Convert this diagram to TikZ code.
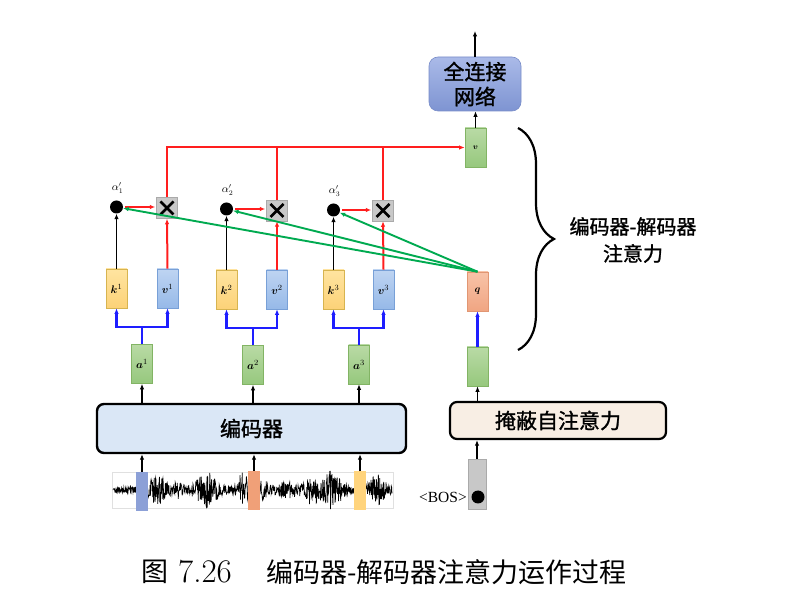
\documentclass[tikz,border=0pt]{standalone}
\usepackage{amsmath,bm}
\usepackage{fontspec}
\newfontfamily\cjk{Noto Sans CJK SC}
\newfontfamily\cjkm{Noto Sans CJK SC}[FakeBold=1.3]
\newfontfamily\bosfont{Liberation Serif}
\usetikzlibrary{arrows.meta,decorations.pathreplacing,calc}
\definecolor{kdraw}{RGB}{215,180,80}
\definecolor{ktop}{RGB}{255,228,160}
\definecolor{kbot}{RGB}{252,210,120}
\definecolor{vdraw}{RGB}{120,160,215}
\definecolor{vtop}{RGB}{190,212,242}
\definecolor{vbot}{RGB}{150,185,232}
\definecolor{gdraw}{RGB}{130,180,100}
\definecolor{gtop}{RGB}{185,218,165}
\definecolor{gbot}{RGB}{150,200,125}
\definecolor{qdraw}{RGB}{225,150,115}
\definecolor{qtop}{RGB}{248,195,168}
\definecolor{qbot}{RGB}{240,165,130}
\definecolor{xfill}{RGB}{200,200,200}
\definecolor{xdraw}{RGB}{170,170,170}
\definecolor{encfill}{RGB}{218,231,246}
\definecolor{maskfill}{RGB}{248,238,228}
\definecolor{fctop}{RGB}{170,186,232}
\definecolor{fcbot}{RGB}{126,148,210}
\definecolor{fcdraw}{RGB}{120,140,200}
\definecolor{myred}{RGB}{255,30,30}
\definecolor{myblue}{RGB}{30,30,255}
\definecolor{mygreen}{RGB}{0,170,80}
\definecolor{barblue}{RGB}{140,160,215}
\definecolor{barorange}{RGB}{240,160,120}
\definecolor{baryellow}{RGB}{255,212,125}
\begin{document}
\begin{tikzpicture}[x=1pt,y=-1pt,
  declare function={env(\t)=3+12*exp(-((\t-158)/10)^2)+6*exp(-((\t-178)/6)^2)+15*exp(-((\t-207)/12)^2)+15*exp(-((\t-243)/6)^2)+10*exp(-((\t-263)/5)^2)+6*exp(-((\t-287)/12)^2)+12*exp(-((\t-312)/8)^2)+17*exp(-((\t-332)/10)^2)+13*exp(-((\t-377)/9)^2);},
  >={Latex[length=5.5pt,width=4.5pt]},
  vecbox/.style={minimum width=21pt,minimum height=39pt,inner sep=0pt,line width=0.6pt,font=\fontsize{11}{11}\selectfont},
  kbox/.style={vecbox,draw=kdraw,top color=ktop,bottom color=kbot},
  vbox/.style={vecbox,draw=vdraw,top color=vtop,bottom color=vbot},
  gbox/.style={vecbox,draw=gdraw,top color=gtop,bottom color=gbot},
  qbox/.style={vecbox,draw=qdraw,top color=qtop,bottom color=qbot},
  xbox/.style={draw=xdraw,fill=xfill,minimum size=21pt,inner sep=0pt,line width=0.5pt,
    path picture={\draw[line width=2.5pt,black] ($(path picture bounding box.center)+(-6.5,-6.5)$) -- ($(path picture bounding box.center)+(6.5,6.5)$) ($(path picture bounding box.center)+(-6.5,6.5)$) -- ($(path picture bounding box.center)+(6.5,-6.5)$);}},
  dotnode/.style={circle,fill=black,minimum size=13pt,inner sep=0pt},
  bigbox/.style={draw=black,line width=2.4pt,rounded corners=7pt,inner sep=0pt},
  blk/.style={->,line width=1.7pt,black},
  redline/.style={line width=2pt,myred},
  blueline/.style={line width=2.3pt,myblue},
  greenline/.style={line width=1.9pt,mygreen,->},
  bar/.style={minimum width=12pt,minimum height=39pt,inner sep=0pt},
  alab/.style={font=\fontsize{10.5}{10.5}\selectfont,inner sep=0pt},
  cjkfont/.style={font=\fontsize{#1}{#1}\selectfont\cjkm}
]
\useasboundingbox (0,0) rectangle (793,601);

% ---------- waveform ----------
\draw[black!12,line width=0.6pt] (112,472) rectangle (393,508);
\pgfmathsetseed{11}
\draw[line width=0.7pt,black] plot[domain=113:392,samples=800,variable=\t] (\t,{490+env(\t)*rand});
\node[bar,fill=barblue] (b1) at (142,491.5) {};
\node[bar,fill=barorange] (b2) at (254,490.5) {};
\node[bar,fill=baryellow] (b3) at (360,491) {};

% ---------- encoder ----------
\node[bigbox,fill=encfill,minimum width=309pt,minimum height=49pt,cjkfont=21] (enc) at (251.5,428.5) {编码器};

% ---------- a, k, v ----------
\node[gbox] (a1) at (142,364) {$\bm{a}^1$};
\node[gbox] (a2) at (253,365) {$\bm{a}^2$};
\node[gbox] (a3) at (359,364.5) {$\bm{a}^3$};
\node[kbox] (k1) at (116.5,288.5) {$\bm{k}^1$};
\node[vbox] (v1) at (167.5,288.5) {$\bm{v}^1$};
\node[kbox] (k2) at (226.5,289.5) {$\bm{k}^2$};
\node[vbox] (v2) at (277,289.5) {$\bm{v}^2$};
\node[kbox] (k3) at (333.5,289.5) {$\bm{k}^3$};
\node[vbox] (v3) at (383.5,289.5) {$\bm{v}^3$};

% dots and multipliers
\node[dotnode] (d1) at (116.5,207) {};
\node[dotnode] (d2) at (226.5,209) {};
\node[dotnode] (d3) at (333.5,210) {};
\node[xbox] (x1) at (167,208) {};
\node[xbox] (x2) at (277,210.5) {};
\node[xbox] (x3) at (383,210.5) {};
\node[alab] (l1) at (117.5,188) {$\alpha'_1$};
\node[alab] (l2) at (227.5,190) {$\alpha'_2$};
\node[alab] (l3) at (334.5,191) {$\alpha'_3$};

% ---------- decoder side ----------
\node[gbox,font=\fontsize{8.5}{8.5}\selectfont] (vo) at (475.5,147.5) {$\bm{v}$};
\node[draw=fcdraw,line width=0.6pt,rounded corners=9pt,top color=fctop,bottom color=fcbot,minimum width=92pt,minimum height=54pt,align=center,font=\fontsize{21}{25}\selectfont\cjkm] (fc) at (475,84) {全连接\\网络};
\coordinate (out) at (475,31);
\node[qbox,font=\fontsize{10}{10}\selectfont] (q) at (477.5,291.5) {$\bm{q}$};
\node[gbox] (g) at (477.5,366.5) {};
\node[bigbox,fill=maskfill,line width=2.2pt,minimum width=216pt,minimum height=37pt,cjkfont=21] (mask) at (558,420.5) {掩蔽自注意力};
\node[draw=xdraw,fill=xfill,line width=0.5pt,minimum width=18pt,minimum height=50pt,inner sep=0pt] (bos) at (477,484) {};
\node[dotnode,minimum size=13pt] (bd) at (478,497) {};
\node[anchor=east,inner sep=0pt,font=\fontsize{15.5}{15.5}\selectfont\bosfont] (bl) at (467,497) {<BOS>};

% ---------- connectors ----------
\foreach \b/\a in {b1/a1,b2/a2,b3/a3}{
  \draw[blk] (\b.north) -- (\b.north |- enc.south);
}
\foreach \a in {a1,a2,a3}{
  \draw[blk] (enc.north -| \a) -- (\a.south);
}
\foreach \a/\k/\v in {a1/k1/v1,a2/k2/v2,a3/k3/v3}{
  \draw[blueline,->] (\a.north) -- ++(0,-17) -| (\k.south);
  \draw[blueline,->] (\a.north) -- ++(0,-17) -| (\v.south);
}
\foreach \k/\d in {k1/d1,k2/d2,k3/d3}{
  \draw[blk] (\k.north) -- (\d.south);
}
\foreach \v/\x in {v1/x1,v2/x2,v3/x3}{
  \draw[redline,->] (\v.north) -- (\x.south);
}
\foreach \d/\x in {d1/x1,d2/x2,d3/x3}{
  \draw[redline,->,shorten <=2pt,shorten >=1pt] (\d.east) -- (\d.east -| \x.west);
}
\draw[redline,->] (x1.north) |- (vo.west);
\draw[redline] (x2.north) -- (x2.north |- vo.west);
\draw[redline] (x3.north) -- (x3.north |- vo.west);
\foreach \d in {d1,d2,d3}{
  \draw[greenline] (q.north) -- (\d);
}
\draw[blk] (vo.north) -- (vo.north |- fc.south);
\draw[blk] (fc.north) -- (out);
\draw[blueline,->] (g.north) -- (q.south);
\draw[blk] (mask.north -| g) -- (g.south);
\draw[blk] (bos.north) -- (bos.north |- mask.south);

% ---------- brace ----------
\draw[line width=2.2pt,decorate,decoration={brace,amplitude=36pt}] (518,128) -- (518,350);
\node[align=center,font=\fontsize{20}{27}\selectfont\cjkm] (bt) at (633,240) {编码器-解码器\\注意力};

% ---------- caption ----------
\node[anchor=west,inner sep=0pt,font=\fontsize{27}{27}\selectfont\cjk] (c1) at (141,572) {图};
\node[anchor=west,inner sep=0pt,font=\fontsize{33}{33}\selectfont] (c2) at (178,572) {7.26};
\node[anchor=west,inner sep=0pt,font=\fontsize{27}{27}\selectfont\cjk] (c3) at (266,572) {编码器-解码器注意力运作过程};
\end{tikzpicture}
\end{document}
